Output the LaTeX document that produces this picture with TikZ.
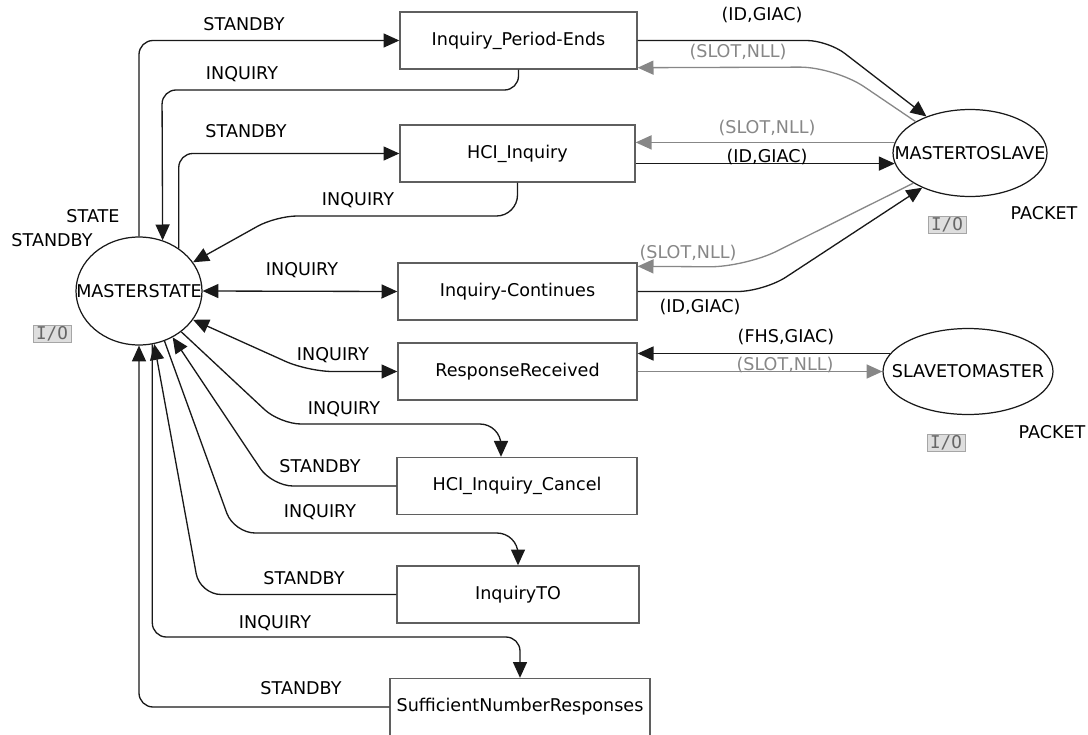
\documentclass[tikz,border=0pt]{standalone}
\usepackage{fontspec}
\setmainfont{DejaVu Sans}
\newfontfamily\iofont{DejaVu Sans Mono}
\usepackage{tikz}
\definecolor{edge}{RGB}{25,25,25}
\definecolor{slot}{RGB}{135,135,135}
\definecolor{frame}{RGB}{95,95,95}
\definecolor{iofill}{RGB}{222,222,222}
\usetikzlibrary{arrows.meta,shapes.geometric,calc}

\begin{document}
\begin{tikzpicture}[x=0.02cm, y=0.02cm,
    trans/.style={draw=frame, line width=0.8pt, minimum height=1.14cm},
    place/.style={ellipse, draw=edge, line width=0.7pt, inner sep=0pt},
    iobox/.style={draw=black!35, fill=iofill, text=black!60, font=\iofont,
                  minimum width=0.76cm, minimum height=0.34cm, inner sep=0pt},
    arc/.style={draw=edge, line width=0.75pt, -{Triangle[length=9pt,width=8pt]}},
    back/.style={draw=slot, line width=0.75pt, -{Triangle[length=9pt,width=8pt]}},
    both/.style={draw=edge, line width=0.75pt,
                 {Triangle[length=9pt,width=8pt]}-{Triangle[length=9pt,width=8pt]}},
    lab/.style={inner sep=1pt},
    glab/.style={inner sep=1pt, text=slot}]
    \useasboundingbox (0,0) rectangle (1088,-734);

    % places
    \node[place, minimum width=2.52cm, minimum height=2.16cm] (ms) at (139,-291) {\makebox[0pt]{MASTERSTATE}};
    \node[place, minimum width=3.08cm, minimum height=1.74cm] (m2s) at (970,-153) {\makebox[0pt]{MASTERTOSLAVE}};
    \node[place, minimum width=3.40cm, minimum height=1.72cm] (s2m) at (968,-371.5) {\makebox[0pt]{SLAVETOMASTER}};

    \node[lab] (msname) at (93,-216) {STATE};
    \node[lab] (msinit) at (52,-240) {STANDBY};
    \node[iobox] (msio) at (52,-334) {I/O};
    \node[iobox] (m2sio) at (947,-225) {I/O};
    \node[lab] (m2stype) at (1044,-213) {PACKET};
    \node[iobox] (s2mio) at (946,-443) {I/O};
    \node[lab] (s2mtype) at (1052,-432) {PACKET};

    % transitions
    \node[trans, minimum width=4.74cm] (ipe) at (518.5,-40.5) {Inquiry\_Period-Ends};
    \node[trans, minimum width=4.70cm] (hci) at (517.5,-153.5) {HCI\_Inquiry};
    \node[trans, minimum width=4.78cm] (icont) at (517.5,-291.5) {Inquiry-Continues};
    \node[trans, minimum width=4.78cm] (rr) at (517.5,-371.5) {ResponseReceived};
    \node[trans, minimum width=4.80cm] (hcic) at (517,-486) {HCI\_Inquiry\_Cancel};
    \node[trans, minimum width=4.84cm] (ito) at (518,-594.5) {InquiryTO};
    \node[trans, minimum width=5.20cm] (snr) at (520,-707) {SufficientNumberResponses};

    % state arcs
    \draw[arc, rounded corners=8pt] (ms.north) |- (ipe.west);
    \coordinate (ipeturn) at (162,-90);
    \draw[arc, rounded corners=8pt] (ipe.south) |- (ipeturn) -- (ms.65);
    \draw[arc, rounded corners=8pt] (ms.47) |- (hci.west);
    \coordinate (hciturn) at (276,-216);
    \draw[arc, rounded corners=12pt] (hci.south) |- (hciturn) -- (ms.28);
    \draw[both] (ms.east) -- (icont.west);
    \coordinate (rrturn) at (308,-371.5);
    \draw[both, rounded corners=14pt] (ms.-28) -- (rrturn) -- (rr.west);
    \coordinate (hcicturn) at (280,-424);
    \draw[arc, rounded corners=12pt] (ms.-44) -- (hcicturn) -| ($(hcic.north)+(-16,0)$);
    \coordinate (hcicback) at (272,-486);
    \draw[arc, rounded corners=12pt] (hcic.west) -- (hcicback) -- (ms.-54);
    \coordinate (itoturn) at (234,-533);
    \draw[arc, rounded corners=12pt] (ms.-63) -- (itoturn) -| (ito.north);
    \coordinate (itoback) at (200,-594.5);
    \draw[arc, rounded corners=12pt] (ito.west) -- (itoback) -- (ms.-74);
    \coordinate (snrturn) at (300,-637);
    \draw[arc, rounded corners=8pt] (ms.-76) |- (snrturn) -| (snr.north);
    \draw[arc, rounded corners=8pt] (snr.west) -| (ms.south);

    \node[lab] (sbipe) at (244,-24) {STANDBY};
    \node[lab] (inqipe) at (242,-74) {INQUIRY};
    \node[lab] (sbhci) at (246,-131) {STANDBY};
    \node[lab] (inqhci) at (358,-200) {INQUIRY};
    \node[lab] (inqic) at (302,-270) {INQUIRY};
    \node[lab] (inqrr) at (333,-355) {INQUIRY};
    \node[lab] (inqhcic) at (344,-409) {INQUIRY};
    \node[lab] (sbhcic) at (320,-466) {STANDBY};
    \node[lab] (inqito) at (320,-512) {INQUIRY};
    \node[lab] (sbito) at (304,-578) {STANDBY};
    \node[lab] (inqsnr) at (275,-623) {INQUIRY};
    \node[lab] (sbsnr) at (301,-688) {STANDBY};

    % packet arcs
    \coordinate (ipeout) at (828,-40.5);
    \draw[arc, rounded corners=12pt] (ipe.east) -- (ipeout) -- (m2s.140);
    \coordinate (ipein) at (835,-67);
    \draw[back, rounded corners=20pt] (m2s.150) -- (ipein) -- ($(ipe.south east)+(0,2)$);
    \draw[back] (m2s.172) -- (m2s.172 -| hci.east);
    \draw[arc] (m2s.188 -| hci.east) -- (m2s.188);
    \coordinate (icin) at (745,-267);
    \draw[back, rounded corners=20pt] (m2s.208) -- (icin) -- ($(icont.north east)+(0,-4)$);
    \coordinate (icout) at (764,-291.5);
    \draw[arc, rounded corners=15pt] (icont.east) -- (icout) -- (m2s.216);
    \draw[arc] (s2m.167) -- (s2m.167 -| rr.east);
    \draw[back] (rr.east) -- (s2m.west);

    \node[lab] (idipe) at (762,-15) {(ID,GIAC)};
    \node[glab] (slipe) at (738,-52) {(SLOT,NLL)};
    \node[glab] (slhci) at (767,-128) {(SLOT,NLL)};
    \node[lab] (idhci) at (767,-157) {(ID,GIAC)};
    \node[glab] (slic) at (688,-253) {(SLOT,NLL)};
    \node[lab] (idic) at (700,-307) {(ID,GIAC)};
    \node[lab] (fhsrr) at (786,-337) {(FHS,GIAC)};
    \node[glab] (slrr) at (785,-365) {(SLOT,NLL)};
\end{tikzpicture}
\end{document}
